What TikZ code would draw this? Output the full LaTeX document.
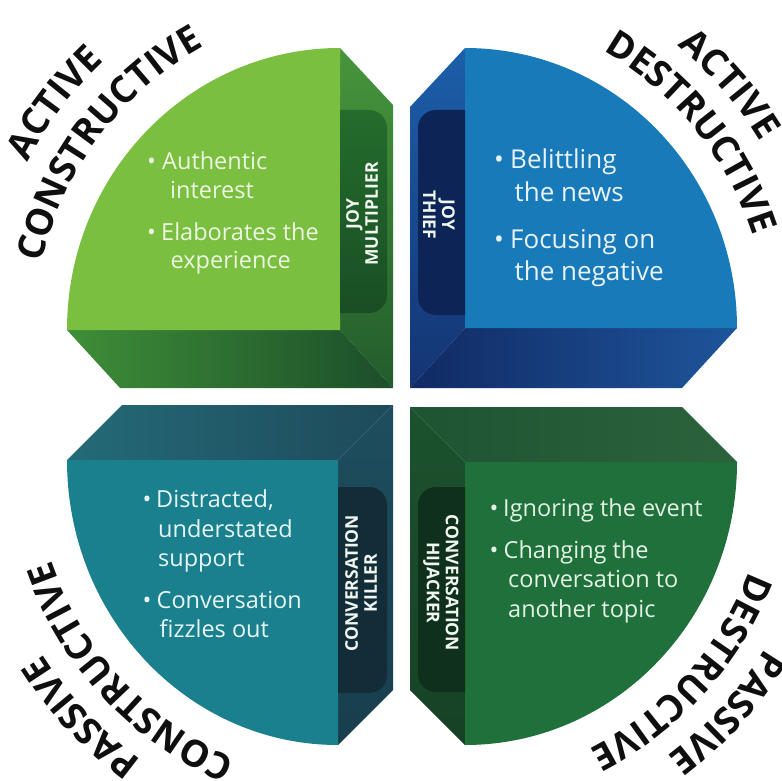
\documentclass[tikz,border=0pt]{standalone}
\usepackage{fontspec}
\setmainfont{Open Sans}
\usetikzlibrary{calc,decorations.text}

% face colours
\definecolor{gFront}{RGB}{123,191,64}
\definecolor{gSideT}{RGB}{70,150,60}
\definecolor{gSideB}{RGB}{34,92,44}
\definecolor{gBotL}{RGB}{62,142,56}
\definecolor{gBotR}{RGB}{28,78,42}
\definecolor{gTabT}{RGB}{36,108,44}
\definecolor{gTabB}{RGB}{26,78,36}
\definecolor{gInk}{RGB}{236,246,226}

\definecolor{bFront}{RGB}{25,122,185}
\definecolor{bSideT}{RGB}{28,95,170}
\definecolor{bSideB}{RGB}{20,52,115}
\definecolor{bBotL}{RGB}{16,42,100}
\definecolor{bBotR}{RGB}{30,85,155}
\definecolor{bTab}{RGB}{12,36,86}
\definecolor{bInk}{RGB}{232,242,250}

\definecolor{tFront}{RGB}{27,128,142}
\definecolor{tTopL}{RGB}{36,106,120}
\definecolor{tTopR}{RGB}{30,74,90}
\definecolor{tSideT}{RGB}{30,78,94}
\definecolor{tSideB}{RGB}{24,62,76}
\definecolor{tTab}{RGB}{18,45,56}
\definecolor{tInk}{RGB}{230,245,245}

\definecolor{dFront}{RGB}{31,112,58}
\definecolor{dTopL}{RGB}{30,84,50}
\definecolor{dTopR}{RGB}{44,98,60}
\definecolor{dSideT}{RGB}{28,82,46}
\definecolor{dSideB}{RGB}{22,66,38}
\definecolor{dTab}{RGB}{15,48,26}
\definecolor{dInk}{RGB}{226,242,228}

\definecolor{tabInk}{RGB}{240,245,240}
\definecolor{labInk}{RGB}{15,15,15}

\newcommand\qlabfont{\color{labInk}\bfseries\fontsize{37}{37}\selectfont}

\begin{document}
\begin{tikzpicture}[x=1pt,y=1pt,
  body/.style={anchor=base west, inner sep=0pt, font=\fontsize{23.5}{29}\selectfont},
  bodyblue/.style={anchor=base west, inner sep=0pt, font=\fontsize{26}{32}\selectfont},
  dot/.style={anchor=base, inner sep=0pt},
  tabtext/.style={align=center, inner sep=0pt, text=tabInk,
    font=\bfseries\fontsize{17.5}{19}\selectfont}
]
\useasboundingbox (0,0) rectangle (782,-781);
\fill[white] (0,0) rectangle (782,-781);

% ---------- active constructive (green block) ----------
\shade[top color=gSideT, bottom color=gSideB]
  (340,-48) -- (393,-105) -- (393,-388) -- (340,-330) -- cycle;
\shade[left color=gBotL, right color=gBotR]
  (67,-330) -- (340,-330) -- (393,-388) -- (120,-388) -- cycle;
\fill[gFront] (67,-330) arc[start angle=180, end angle=90, x radius=273, y radius=282]
  -- (340,-330) -- cycle;
\shade[top color=gTabT, bottom color=gTabB]
  (340,-110) -- (369,-110) arc[start angle=90, end angle=0, radius=18]
  -- (387,-295) arc[start angle=0, end angle=-90, radius=18] -- (340,-313) -- cycle;
\node[tabtext, rotate=90] (gTab) at (362,-214) {JOY\\MULTIPLIER};

\begin{scope}[text=gInk]
\node[dot, font=\fontsize{23.5}{29}\selectfont] (gD1) at (151.5,-169) {•};
\node[body] (gL1) at (162,-169) {Authentic};
\node[body] (gL2) at (170,-198) {interest};
\node[dot, font=\fontsize{23.5}{29}\selectfont] (gD2) at (151.5,-240) {•};
\node[body] (gL3) at (161,-240) {Elaborates the};
\node[body] (gL4) at (170.5,-268) {experience};
\end{scope}

% ---------- active destructive (blue block) ----------
\shade[top color=bSideT, bottom color=bSideB]
  (465,-48) -- (410,-107) -- (410,-388) -- (465,-328) -- cycle;
\shade[left color=bBotL, right color=bBotR]
  (465,-328) -- (737,-328) -- (682,-388) -- (410,-388) -- cycle;
\fill[bFront] (465,-48) arc[start angle=90, end angle=0, x radius=272, y radius=280]
  -- (465,-328) -- cycle;
\fill[bTab]
  (465,-110) -- (436,-110) arc[start angle=90, end angle=180, radius=18]
  -- (418,-297) arc[start angle=180, end angle=270, radius=18] -- (465,-315) -- cycle;
\node[tabtext, rotate=-90] (bTabLbl) at (439,-215) {JOY\\THIEF};

\begin{scope}[text=bInk]
\node[dot, font=\fontsize{26}{32}\selectfont] (bD1) at (499,-168) {•};
\node[bodyblue] (bL1) at (510,-168) {Belittling};
\node[bodyblue] (bL2) at (514.5,-201) {the news};
\node[dot, font=\fontsize{26}{32}\selectfont] (bD2) at (499,-248) {•};
\node[bodyblue] (bL3) at (510,-248) {Focusing on};
\node[bodyblue] (bL4) at (514.5,-280) {the negative};
\end{scope}

% ---------- passive constructive (teal block) ----------
\shade[left color=tTopL, right color=tTopR]
  (67,-460) -- (122,-405) -- (393,-405) -- (338,-460) -- cycle;
\shade[top color=tSideT, bottom color=tSideB]
  (338,-460) -- (393,-405) -- (393,-690) -- (338,-745) -- cycle;
\fill[tFront] (67,-460) -- (338,-460) -- (338,-745)
  arc[start angle=270, end angle=180, x radius=271, y radius=285] -- cycle;
\fill[tTab]
  (338,-487) -- (369,-487) arc[start angle=90, end angle=0, radius=18]
  -- (387,-675) arc[start angle=0, end angle=-90, radius=18] -- (338,-693) -- cycle;
\node[tabtext, rotate=90] (tTabLbl) at (361,-583) {CONVERSATION\\KILLER};

\begin{scope}[text=tInk]
\node[dot, font=\fontsize{23.5}{29}\selectfont] (tD1) at (147,-507) {•};
\node[body] (tL1) at (156,-507) {Distracted,};
\node[body] (tL2) at (158,-537) {understated};
\node[body] (tL3) at (158,-566) {support};
\node[dot, font=\fontsize{23.5}{29}\selectfont] (tD2) at (147,-608) {•};
\node[body] (tL4) at (156.5,-608) {Conversation};
\node[body] (tL5) at (159.5,-637) {fizzles out};
\end{scope}

% ---------- passive destructive (dark green block) ----------
\shade[left color=dTopL, right color=dTopR]
  (465,-462) -- (410,-407) -- (682,-407) -- (737,-462) -- cycle;
\shade[top color=dSideT, bottom color=dSideB]
  (465,-462) -- (410,-407) -- (410,-690) -- (465,-745) -- cycle;
\fill[dFront] (465,-462) -- (737,-462)
  arc[start angle=0, end angle=-90, x radius=272, y radius=283] -- cycle;
\fill[dTab]
  (465,-487) -- (436,-487) arc[start angle=90, end angle=180, radius=18]
  -- (418,-674) arc[start angle=180, end angle=270, radius=18] -- (465,-692) -- cycle;
\node[tabtext, rotate=-90] (dTabLbl) at (441,-583) {CONVERSATION\\HIJACKER};

\begin{scope}[text=dInk]
\node[dot, font=\fontsize{23.5}{29}\selectfont] (dD1) at (494,-516) {•};
\node[body] (dL1) at (503,-516) {Ignoring the event};
\node[dot, font=\fontsize{23.5}{29}\selectfont] (dD2) at (494,-558) {•};
\node[body] (dL2) at (503.5,-558) {Changing the};
\node[body] (dL3) at (508,-587) {conversation to};
\node[body] (dL4) at (508,-617) {another topic};
\end{scope}

% ---------- curved quadrant titles ----------
\coordinate (cTL) at (365,-337);
\coordinate (cTR) at (439,-337);
\coordinate (cBL) at (365,-453);
\coordinate (cBR) at (439,-453);

\path[decorate, decoration={text along path, text align=center, text={|\qlabfont|ACTIVE}}]
  ($(cTL)+(213:380)$) arc[start angle=213, end angle=73, radius=380];
\path[decorate, decoration={text along path, text align=center, text={|\qlabfont|CONSTRUCTIVE}}]
  ($(cTL)+(213:332)$) arc[start angle=213, end angle=73, radius=332];

\path[decorate, decoration={text along path, text align=center, text={|\qlabfont|ACTIVE}}]
  ($(cTR)+(111:376)$) arc[start angle=111, end angle=-29, radius=376];
\path[decorate, decoration={text along path, text align=center, text={|\qlabfont|DESTRUCTIVE}}]
  ($(cTR)+(109:330)$) arc[start angle=109, end angle=-31, radius=330];

\path[decorate, decoration={text along path, text align=center, text={|\qlabfont|PASSIVE}}]
  ($(cBL)+(293:380)$) arc[start angle=293, end angle=153, radius=380];
\path[decorate, decoration={text along path, text align=center, text={|\qlabfont|CONSTRUCTIVE}}]
  ($(cBL)+(293:332)$) arc[start angle=293, end angle=153, radius=332];

\path[decorate, decoration={text along path, text align=center, text={|\qlabfont|PASSIVE}}]
  ($(cBR)+(388:380)$) arc[start angle=388, end angle=248, radius=380];
\path[decorate, decoration={text along path, text align=center, text={|\qlabfont|DESTRUCTIVE}}]
  ($(cBR)+(388:332)$) arc[start angle=388, end angle=248, radius=332];
\end{tikzpicture}
\end{document}
